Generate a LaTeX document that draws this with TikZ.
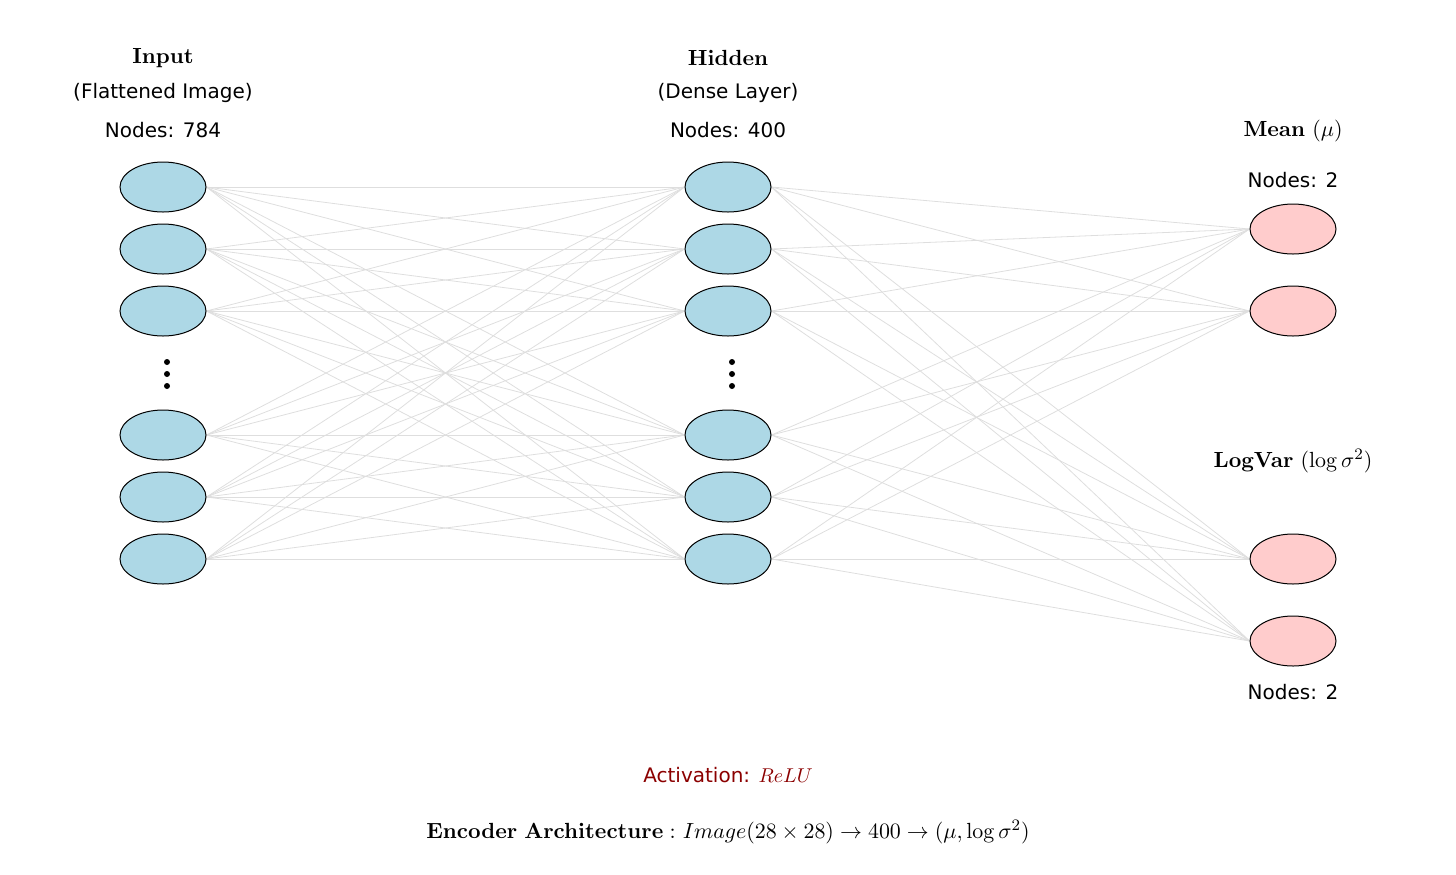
\documentclass[tikz,border=0pt]{standalone}
\usepackage[no-math]{fontspec}
\setmainfont{DejaVu Sans}
\usepackage{amsmath}
\usetikzlibrary{shapes.geometric, backgrounds}
\definecolor{cellblue}{RGB}{173, 216, 230}
\definecolor{cellpink}{RGB}{255, 204, 204}
\definecolor{wiregray}{RGB}{222, 222, 222}
\definecolor{actred}{RGB}{139, 0, 0}

\begin{document}
\begin{tikzpicture}[x=0.5pt, y=-0.5pt,
  cell/.style={ellipse, draw=black, line width=0.5pt, minimum width=43pt, minimum height=25pt, inner sep=0pt},
  bluecell/.style={cell, fill=cellblue},
  pinkcell/.style={cell, fill=cellpink},
  wire/.style={wiregray, line width=0.4pt},
  lbl/.style={font=\fontsize{10}{12}\selectfont, inner sep=0pt},
  ttl/.style={font=\fontsize{11.2}{13}\selectfont, inner sep=0pt}]
  \useasboundingbox (0, 0) rectangle (1456, 874);

  % layer nodes
  \foreach \y [count=\i] in {187, 249, 311, 435, 497, 559} {
    \node[bluecell] (in\i) at (163, \y) {};
    \node[bluecell] (hd\i) at (728, \y) {};
  }
  \node[pinkcell] (mu1) at (1293, 229) {};
  \node[pinkcell] (mu2) at (1293, 311) {};
  \node[pinkcell] (lv1) at (1293, 559) {};
  \node[pinkcell] (lv2) at (1293, 641) {};

  % skipped units
  \foreach \x in {167, 732}
    \foreach \y in {362, 374, 386}
      \fill (\x, \y) circle (1.5pt);

  % dense connections
  \begin{scope}[on background layer]
    \foreach \i in {1,...,6} {
      \foreach \j in {1,...,6}
        \draw[wire] (in\i.east) -- (hd\j.west);
      \foreach \o in {mu1, mu2, lv1, lv2}
        \draw[wire] (hd\i.east) -- (\o.west);
    }
  \end{scope}

  % titles
  \node[ttl] (tin) at (163, 58) {$\mathbf{Input}$};
  \node[lbl] (sin) at (163, 93) {(Flattened Image)};
  \node[lbl] (nin) at (163, 130) {Nodes: 784};
  \node[ttl] (thd) at (728, 58) {$\mathbf{Hidden}$};
  \node[lbl] (shd) at (728, 93) {(Dense Layer)};
  \node[lbl] (nhd) at (728, 130) {Nodes: 400};
  \node[ttl] (tmu) at (1293, 131) {$\mathbf{Mean}\ (\mu)$};
  \node[lbl] (nmu) at (1293, 180) {Nodes: 2};
  \node[ttl] (tlv) at (1293, 461) {$\mathbf{LogVar}\ (\log\sigma^{2})$};
  \node[lbl] (nlv) at (1293, 692) {Nodes: 2};

  \node[lbl, actred] (act) at (728, 775) {Activation: $ReLU$};
  \node[ttl] (arch) at (728, 832) {$\mathbf{Encoder\ Architecture:}\ Image(28\times28)\rightarrow400\rightarrow(\mu,\log\sigma^{2})$};
\end{tikzpicture}
\end{document}
